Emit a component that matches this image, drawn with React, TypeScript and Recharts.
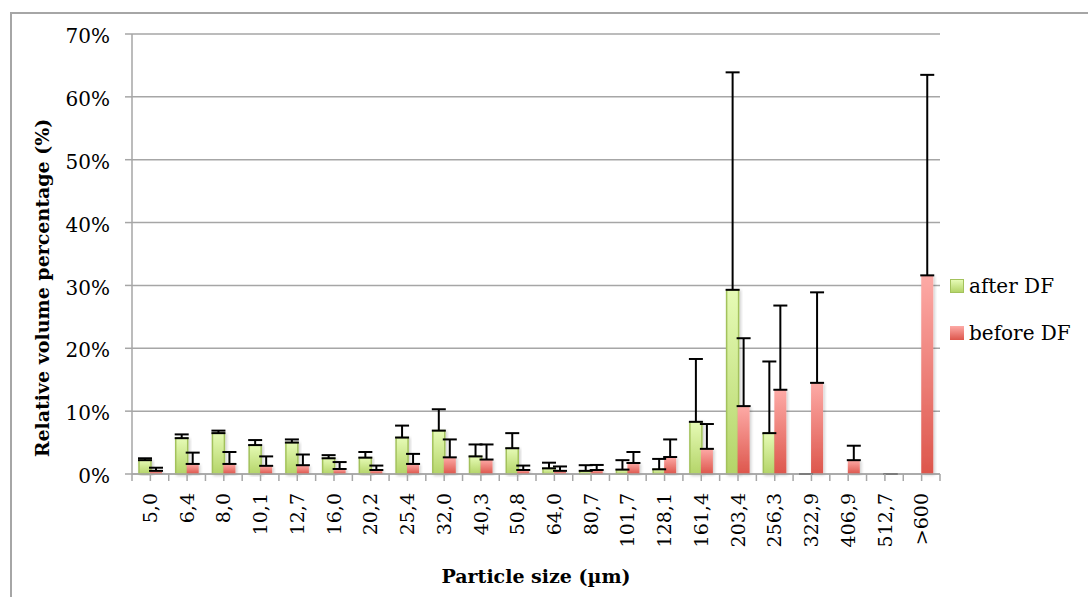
import { BarChart, Bar, XAxis, YAxis, CartesianGrid, ErrorBar } from 'recharts';

const sizes = ['5,0', '6,4', '8,0', '10,1', '12,7', '16,0', '20,2', '25,4', '32,0', '40,3', '50,8', '64,0', '80,7', '101,7', '128,1', '161,4', '203,4', '256,3', '322,9', '406,9', '512,7', '>600'];
const afterDF = [2.2, 5.7, 6.5, 4.6, 5.0, 2.5, 2.6, 5.8, 6.9, 2.8, 4.1, 0.9, 0.5, 0.7, 0.75, 8.3, 29.3, 6.5, 0, null, null, null];
const afterDFErr = [0.3, 0.6, 0.4, 0.8, 0.5, 0.5, 0.9, 1.9, 3.4, 1.9, 2.4, 0.9, 0.9, 1.5, 1.65, 10.0, 34.6, 11.4, 0, null, null, null];
const beforeDF = [0.5, 1.6, 1.6, 1.3, 1.4, 0.8, 0.64, 1.6, 2.65, 2.3, 0.64, 0.5, 0.64, 1.75, 2.7, 4.0, 10.8, 13.4, 14.5, 2.2, 0, 31.6];
const beforeDFErr = [0.5, 1.8, 1.9, 1.5, 1.7, 1.1, 0.7, 1.6, 2.85, 2.4, 0.7, 0.7, 0.8, 1.75, 2.8, 3.95, 10.8, 13.4, 14.4, 2.3, 0, 31.9];
const yTicks = [0, 10, 20, 30, 40, 50, 60, 70];
const seriesNames = ['after DF', 'before DF'];

const data = sizes.map((size, i) => ({
  size,
  after: afterDF[i],
  afterErr: afterDFErr[i] === null ? null : [0, afterDFErr[i]],
  before: beforeDF[i],
  beforeErr: beforeDFErr[i] === null ? null : [0, beforeDFErr[i]],
}));

const font = '"DejaVu Serif", serif';
const gray = '#a6a6a6';

function SizeTick(props: any) {
  const { x, y, payload, index } = props;
  const half = payload?.offset || (940 - 132) / sizes.length / 2;
  const axisY = y - 19;
  return (
    <g>
      <line x1={x - half} x2={x - half} y1={axisY} y2={axisY + 7} stroke={gray} strokeWidth={1.5} />
      {index === sizes.length - 1 && (
        <line x1={x + half} x2={x + half} y1={axisY} y2={axisY + 7} stroke={gray} strokeWidth={1.5} />
      )}
      <text
        transform={`translate(${x},${y}) rotate(-90)`}
        textAnchor="end"
        dy="0.35em"
        fontFamily={font}
        fontSize={19}
        fill="#000"
      >
        {payload.value}
      </text>
    </g>
  );
}

function ShadowBar(fill: string, stroke?: string) {
  return (p: any) => (
    <rect
      x={p.x}
      y={p.y}
      width={p.width}
      height={p.height}
      fill={fill}
      stroke={stroke || 'none'}
      strokeWidth={stroke ? 1.5 : 0}
      filter="url(#barShadow)"
    />
  );
}

export default function App() {
  return (
    <div style={{ position: 'absolute', left: 0, top: 0, width: 1088, height: 597, overflow: 'hidden', background: '#fff' }}>
      <div style={{ position: 'absolute', left: 10, top: 12, width: 1200, height: 700, border: `2px solid ${gray}` }} />
      <div style={{ position: 'absolute', left: 0, top: 0 }}>
        <BarChart
          width={1088}
          height={597}
          data={data}
          margin={{ top: 34, right: 148, bottom: 0, left: 0 }}
          barCategoryGap="19%"
          barGap={-1}
        >
          <defs>
            <linearGradient id="greenFill" x1="0" y1="0" x2="0" y2="1">
              <stop offset="0%" stopColor="#e6fbb6" />
              <stop offset="100%" stopColor="#b4d468" />
            </linearGradient>
            <linearGradient id="pinkFill" x1="0" y1="0" x2="0" y2="1">
              <stop offset="0%" stopColor="#fdaaa6" />
              <stop offset="100%" stopColor="#dd564c" />
            </linearGradient>
            <filter id="barShadow" x="-30%" y="-10%" width="160%" height="120%">
              <feDropShadow dx="1.5" dy="1" stdDeviation="1.5" floodColor="#000" floodOpacity="0.2" />
            </filter>
          </defs>
          <CartesianGrid vertical={false} stroke={gray} strokeWidth={1.5} />
          <XAxis
            dataKey="size"
            height={123}
            interval={0}
            tickSize={7}
            tickMargin={12}
            stroke={gray}
            strokeWidth={1.5}
            tick={<SizeTick />}
          />
          <YAxis
            width={132}
            domain={[0, 70]}
            ticks={yTicks}
            interval={0}
            tickSize={7}
            tickMargin={15}
            stroke={gray}
            strokeWidth={1.5}
            tickFormatter={(v) => `${v}%`}
            tick={{ fill: '#000', fontSize: 20, fontFamily: font, dy: 2 }}
          />
          <Bar dataKey="after" name={seriesNames[0]} isAnimationActive={false} shape={ShadowBar('url(#greenFill)', '#a3c25c')}>
            <ErrorBar dataKey="afterErr" width={7} stroke="#000" strokeWidth={2} isAnimationActive={false} />
          </Bar>
          <Bar dataKey="before" name={seriesNames[1]} isAnimationActive={false} shape={ShadowBar('url(#pinkFill)')}>
            <ErrorBar dataKey="beforeErr" width={7} stroke="#000" strokeWidth={2} isAnimationActive={false} />
          </Bar>
        </BarChart>
      </div>
      <div
        style={{
          position: 'absolute', left: 42, top: 288, transform: 'translate(-50%, -50%) rotate(-90deg)',
          whiteSpace: 'nowrap', fontFamily: font, fontWeight: 'bold', fontSize: 19, lineHeight: 1,
        }}
      >
        Relative volume percentage (%)
      </div>
      <div
        style={{
          position: 'absolute', left: 536, top: 576, transform: 'translate(-50%, -50%)',
          whiteSpace: 'nowrap', fontFamily: font, fontWeight: 'bold', fontSize: 19, lineHeight: 1,
        }}
      >
        Particle size (µm)
      </div>
      <div style={{ position: 'absolute', left: 950, top: 274, fontFamily: font, fontSize: 20 }}>
        {seriesNames.map((name, i) => (
          <div key={name} style={{ display: 'flex', alignItems: 'center', height: 24, marginBottom: 23 }}>
            <div
              style={{
                width: 14, height: 14, boxSizing: 'border-box', marginRight: 5,
                background: i === 0 ? 'linear-gradient(#e6fbb6, #b4d468)' : 'linear-gradient(#fdaaa6, #dd564c)',
                border: i === 0 ? '1.5px solid #a3c25c' : 'none',
              }}
            />
            <span>{name}</span>
          </div>
        ))}
      </div>
    </div>
  );
}
